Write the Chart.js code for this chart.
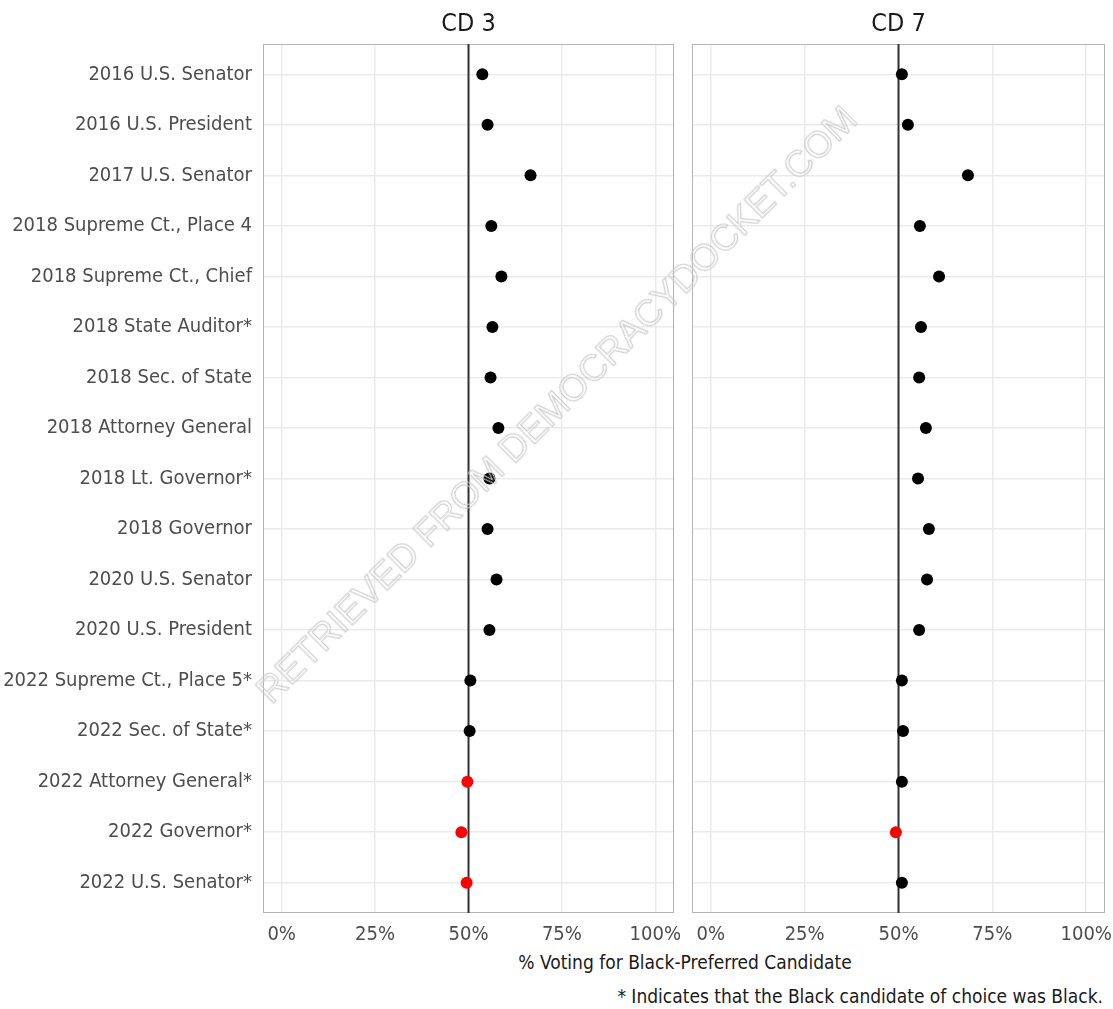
<!DOCTYPE html>
<html>
<head>
<meta charset="utf-8">
<script src="https://cdn.jsdelivr.net/npm/chart.js@4/dist/chart.umd.min.js"></script>
<style>
  body { margin: 0; background: #fff; }
  #wrap { position: relative; width: 1113px; height: 1009px; overflow: hidden; font-family: 'DejaVu Sans Condensed', sans-serif; }
  canvas { position: absolute; top: 0; }
  #xtitle { position: absolute; top: 951px; left: 385px; width: 600px; text-align: center; font-size: 19px; color: #1a1a1a; }
  #note { position: absolute; top: 985px; right: 10px; font-size: 19px; color: #1a1a1a; white-space: nowrap; }
  #mark { position: absolute; left: 557px; top: 405px; transform: translate(-50%, -50%) rotate(-44.8deg);
          font-family: 'Liberation Sans', sans-serif; font-size: 37px; color: transparent;
          -webkit-text-stroke: 1px #c8c8c8; white-space: nowrap; }
</style>
</head>
<body>
<div id="wrap">
  <canvas id="cd3" width="680" height="950" style="left:0"></canvas>
  <canvas id="cd7" width="428" height="950" style="left:685px"></canvas>
  <div id="xtitle">% Voting for Black-Preferred Candidate</div>
  <div id="note">* Indicates that the Black candidate of choice was Black.</div>
  <div id="mark">RETRIEVED FROM DEMOCRACYDOCKET.COM</div>
</div>
<script>
const categories = [
  "2016 U.S. Senator", "2016 U.S. President", "2017 U.S. Senator",
  "2018 Supreme Ct., Place 4", "2018 Supreme Ct., Chief", "2018 State Auditor*",
  "2018 Sec. of State", "2018 Attorney General", "2018 Lt. Governor*",
  "2018 Governor", "2020 U.S. Senator", "2020 U.S. President",
  "2022 Supreme Ct., Place 5*", "2022 Sec. of State*", "2022 Attorney General*",
  "2022 Governor*", "2022 U.S. Senator*"
];
const cd3Values = [53.7, 55.1, 66.6, 56.1, 58.8, 56.4, 55.9, 58.0, 55.6, 55.1, 57.5, 55.6, 50.5, 50.3, 49.7, 48.1, 49.5];
const cd7Values = [50.9, 52.5, 68.5, 55.7, 60.8, 56.0, 55.5, 57.3, 55.2, 58.1, 57.6, 55.5, 50.9, 51.2, 50.9, 49.3, 50.9];
const xTicks = [0, 25, 50, 75, 100];
const refValue = 50;

Chart.defaults.font.family = "'DejaVu Sans Condensed', sans-serif";

// panel border, strip title and 50% reference line
const panelDeco = {
  id: 'panelDeco',
  beforeDatasetsDraw(chart, args, opts) {
    const { ctx, chartArea: a, scales } = chart;
    ctx.save();
    ctx.strokeStyle = '#b3b3b3';
    ctx.lineWidth = 1;
    ctx.strokeRect(a.left + 0.5, a.top + 0.5, a.width - 1, a.height - 1);
    const x = scales.x.getPixelForValue(refValue);
    ctx.strokeStyle = '#333';
    ctx.lineWidth = 2;
    ctx.beginPath();
    ctx.moveTo(x, a.top);
    ctx.lineTo(x, a.bottom);
    ctx.stroke();
    ctx.fillStyle = '#1a1a1a';
    ctx.font = "25px 'DejaVu Sans Condensed', sans-serif";
    ctx.textAlign = 'center';
    ctx.textBaseline = 'middle';
    ctx.fillText(opts.title, (a.left + a.right) / 2, 24);
    ctx.restore();
  }
};

function makePanel(id, title, values, showLabels) {
  return new Chart(document.getElementById(id), {
    type: 'scatter',
    data: {
      datasets: [{
        data: values.map((v, i) => ({ x: v, y: i })),
        backgroundColor: values.map(v => v < refValue ? '#ff0000' : '#000000'),
        borderWidth: 0,
        pointRadius: 6
      }]
    },
    options: {
      responsive: false,
      animation: false,
      layout: { padding: { top: 44, left: showLabels ? 0 : 7, right: showLabels ? 5 : 8, bottom: 0 } },
      plugins: {
        legend: { display: false },
        tooltip: { enabled: false },
        panelDeco: { title: title }
      },
      scales: {
        x: {
          type: 'linear',
          min: -5, max: 105,
          afterBuildTicks: s => { s.ticks = xTicks.map(v => ({ value: v })); },
          afterFit: s => { s.height = 37; s.paddingLeft = 0; s.paddingRight = 0; },
          ticks: { callback: v => v + '%', color: '#4d4d4d', font: { size: 20 }, padding: 10, maxRotation: 0 },
          grid: { color: '#ebebeb', lineWidth: 1.5, drawTicks: false },
          border: { display: false }
        },
        y: {
          type: 'linear',
          reverse: true,
          min: -0.6, max: categories.length - 0.4,
          afterBuildTicks: s => { s.ticks = categories.map((c, i) => ({ value: i })); },
          afterFit: s => { s.width = showLabels ? 263 : 0; s.paddingTop = 0; s.paddingBottom = 0; },
          ticks: { display: showLabels, callback: v => categories[v], color: '#4d4d4d', font: { size: 20 }, padding: 11, autoSkip: false },
          grid: { color: '#ebebeb', lineWidth: 1.5, drawTicks: false },
          border: { display: false }
        }
      }
    },
    plugins: [panelDeco]
  });
}

makePanel('cd3', 'CD 3', cd3Values, true);
makePanel('cd7', 'CD 7', cd7Values, false);
</script>
</body>
</html>
